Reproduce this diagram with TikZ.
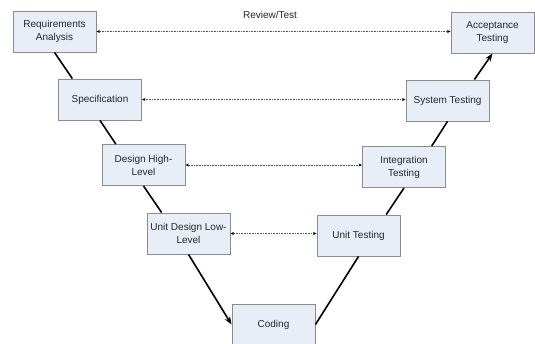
\documentclass[tikz,border=0pt]{standalone}
\usepackage{fontspec}
\setmainfont{Liberation Sans}
\usetikzlibrary{arrows.meta,calc}
\definecolor{boxfill}{HTML}{E8EEF8}
\definecolor{boxline}{HTML}{8C8C8C}
\definecolor{dotline}{HTML}{555555}
\tikzset{
  phase/.style={draw=boxline, fill=boxfill, line width=0.9pt, rectangle,
    minimum width=83pt, minimum height=41pt, inner sep=1pt,
    align=center, font=\fontsize{10}{13}\selectfont, text=black!85},
  flow/.style={line width=1.6pt, black},
  flowarrow/.style={flow, -{Stealth[length=8pt,width=6pt]}},
  review/.style={dotline, line width=0.9pt, dash pattern=on 1pt off 0.6pt,
    {Stealth[length=3.5pt,width=3pt,black]}-{Stealth[length=3.5pt,width=3pt,black]}}
}
\begin{document}
\begin{tikzpicture}[x=1pt,y=-1pt]
\useasboundingbox (0,0) rectangle (535,343);
\fill[white] (0,0) rectangle (535,343);

% left branch of the V
\node[phase] (req)  at (54.5,31.5)  {Requirements\\Analysis};
\node[phase] (spec) at (100,99.5)   {Specification};
\node[phase] (dh)   at (143.5,165)  {Design High-\\Level};
\node[phase] (ud)   at (188.5,233.5){Unit Design Low-\\Level};
% bottom
\node[phase] (code) at (273.5,324.5){Coding};
% right branch of the V
\node[phase] (ut)   at (358.5,235.5){Unit Testing};
\node[phase] (it)   at (404,167)    {Integration\\Testing};
\node[phase] (st)   at (447.5,100.5){System Testing};
\node[phase] (at)   at (492.5,32.5) {Acceptance\\Testing};

\node[font=\fontsize{10}{12}\selectfont, text=black!85] (lbl) at (270,15) {Review/Test};

% the V itself
\draw[flow] (req.south) -- ($(spec.north west)!0.17!(spec.north east)$);
\draw[flow] (spec.south) -- ($(dh.north west)!0.17!(dh.north east)$);
\draw[flow] (dh.south) -- ($(ud.north west)!0.18!(ud.north east)$);
\draw[flowarrow] (ud.south) -- (code.west);
\draw[flow] (code.east) -- (ut.south);
\draw[flow] ($(ut.north west)!0.83!(ut.north east)$) -- (it.south);
\draw[flow] ($(it.north west)!0.83!(it.north east)$) -- (st.south);
\draw[flowarrow] ($(st.north west)!0.82!(st.north east)$) -- (at.south);

% review / test links
\draw[review] (req.east)  -- (req.east -| at.west);
\draw[review] (spec.east) -- (spec.east -| st.west);
\draw[review] (dh.east)   -- (dh.east -| it.west);
\draw[review] (ud.east)   -- (ud.east -| ut.west);
\end{tikzpicture}
\end{document}
